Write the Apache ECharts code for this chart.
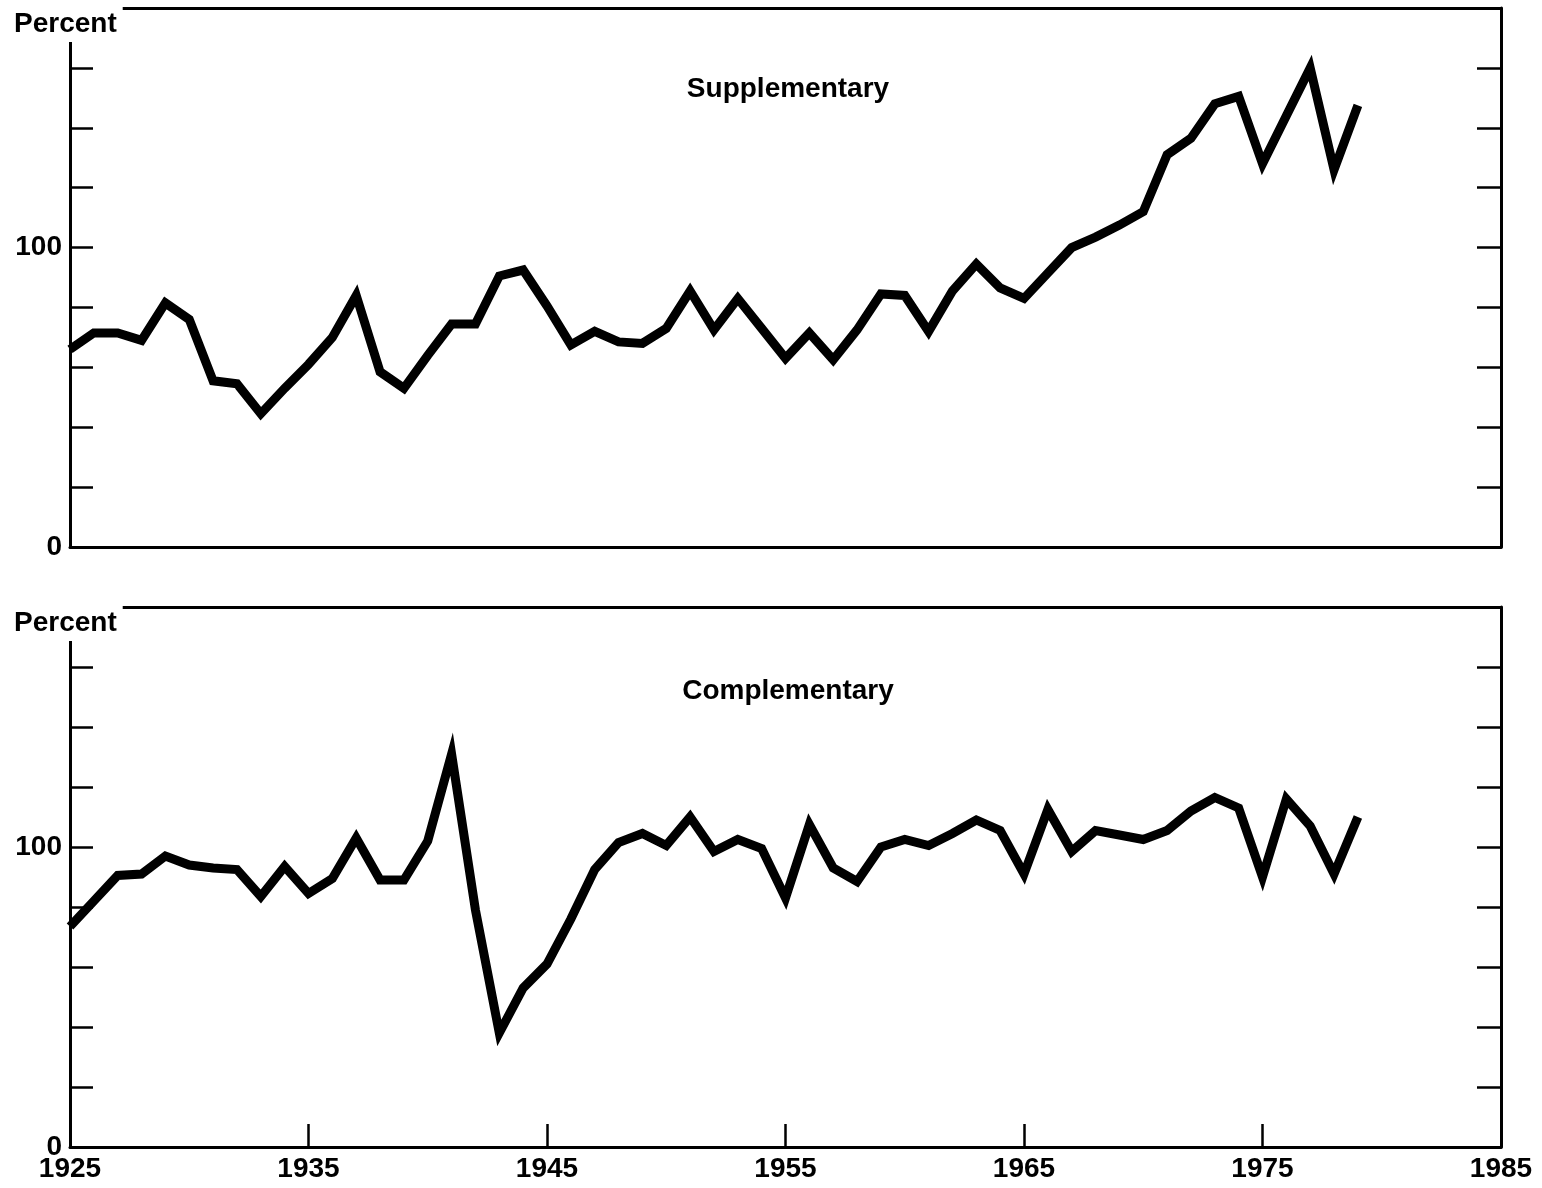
<!DOCTYPE html>
<html>
<head>
<meta charset="utf-8">
<script src="https://cdn.jsdelivr.net/npm/echarts@6/dist/echarts.min.js"></script>
<style>
html, body { margin: 0; padding: 0; background: #fff; }
#main { width: 1542px; height: 1188px; }
</style>
</head>
<body>
<div id="main"></div>
<script>
var years = [
    1925, 1926, 1927, 1928, 1929, 1930, 1931, 1932, 1933, 1934,
    1935, 1936, 1937, 1938, 1939, 1940, 1941, 1942, 1943, 1944,
    1945, 1946, 1947, 1948, 1949, 1950, 1951, 1952, 1953, 1954,
    1955, 1956, 1957, 1958, 1959, 1960, 1961, 1962, 1963, 1964,
    1965, 1966, 1967, 1968, 1969, 1970, 1971, 1972, 1973, 1974,
    1975, 1976, 1977, 1978, 1979
];
var supplementary = [
    66, 71.5, 71.5, 69, 81.5, 76, 55.5, 54.5, 44.5, 53,
    61, 70, 84, 58.5, 53, 64, 74.5, 74.5, 90.5, 92.5,
    80.5, 67.5, 72, 68.5, 68, 73, 85.5, 72.5, 83, 73,
    63, 71.5, 62.5, 72.5, 84.5, 84, 72, 85.5, 94.5, 86.5,
    83, 91.5, 100, 103.5, 107.5, 112, 131, 136.5, 148, 150.5,
    128, 144, 160, 126, 147.5
];
var complementary = [
    73.5, 82, 90.5, 91, 97, 94, 93, 92.5, 83.5, 93.5,
    84.5, 89.5, 103, 89, 89, 102, 131, 79, 38, 53,
    61, 76, 92.5, 101.5, 104.5, 100.5, 110, 98.5, 102.5, 99.5,
    83, 107.5, 93, 88.5, 100, 102.5, 100.5, 104.5, 109, 105.5,
    91, 112.5, 98.5, 105.5, 104, 102.5, 105.5, 112, 116.5, 113,
    90, 116, 107, 91, 110
];
var panelTitles = ['Supplementary', 'Complementary'];
var yLabelValues = [0, 100];
var unitLabel = 'Percent';

var chartDom = document.getElementById('main');
var myChart = echarts.init(chartDom);
var option;

var FONT = '"Liberation Sans", Arial, sans-serif';
var frameLine = { color: '#000', width: 3 };
var tickLine = { color: '#000', width: 2.5 };

function pairs(vals) {
    return years.map(function (y, i) { return [y, vals[i]]; });
}

function bottomX(gridIndex, withLabels) {
    return {
        type: 'value', gridIndex: gridIndex, position: 'bottom',
        min: 1925, max: 1985, interval: 10,
        axisLine: { show: true, onZero: false, lineStyle: frameLine },
        axisTick: { show: withLabels, inside: true, length: 23, lineStyle: tickLine },
        axisLabel: {
            show: withLabels, margin: 8, color: '#000',
            fontSize: 28, fontWeight: 'bold', fontFamily: FONT,
            formatter: function (v) { return String(v); }
        },
        splitLine: { show: false }
    };
}

function topX(gridIndex) {
    return {
        type: 'value', gridIndex: gridIndex, position: 'top',
        min: 1925, max: 1985,
        axisLine: { show: true, onZero: false, lineStyle: frameLine },
        axisTick: { show: false }, axisLabel: { show: false }, splitLine: { show: false }
    };
}

function leftY(gridIndex) {
    return {
        type: 'value', gridIndex: gridIndex, position: 'left',
        min: 0, max: 180, interval: 20,
        axisLine: { show: true, onZero: false, lineStyle: frameLine },
        axisTick: { show: true, inside: true, length: 23, lineStyle: tickLine },
        axisLabel: {
            margin: 8, color: '#000', fontSize: 28, fontWeight: 'bold', fontFamily: FONT,
            formatter: function (v) { return yLabelValues.indexOf(v) >= 0 ? String(v) : ''; }
        },
        splitLine: { show: false }
    };
}

function rightY(gridIndex) {
    return {
        type: 'value', gridIndex: gridIndex, position: 'right',
        min: 0, max: 180, interval: 20,
        axisLine: { show: true, onZero: false, lineStyle: frameLine },
        axisTick: { show: true, inside: true, length: 24, lineStyle: tickLine },
        axisLabel: { show: false }, splitLine: { show: false }
    };
}

function titleAt(text, top) {
    return {
        text: text, left: 783, top: top, textAlign: 'center',
        textStyle: { color: '#000', fontSize: 28, fontWeight: 'bold', fontFamily: FONT }
    };
}

// "Percent" sits in the top-left corner of each frame, on a white patch
function unitText(top) {
    return {
        type: 'text', left: 10, top: top, z: 100,
        style: {
            text: unitLabel, fill: '#000',
            font: 'bold 28px ' + FONT,
            backgroundColor: '#fff', padding: [6, 6, 4, 4]
        }
    };
}

option = {
    backgroundColor: '#fff',
    animation: false,
    title: [titleAt(panelTitles[0], 70), titleAt(panelTitles[1], 672)],
    grid: [
        { left: 70, right: 41, top: 8, height: 539 },
        { left: 70, right: 41, top: 607, height: 540 }
    ],
    xAxis: [bottomX(0, false), topX(0), bottomX(1, true), topX(1)],
    yAxis: [leftY(0), rightY(0), leftY(1), rightY(1)],
    graphic: [unitText(4), unitText(603)],
    series: [
        {
            name: panelTitles[0], type: 'line', xAxisIndex: 0, yAxisIndex: 0,
            data: pairs(supplementary), showSymbol: false,
            lineStyle: { color: '#000', width: 9, join: 'miter' }
        },
        {
            name: panelTitles[1], type: 'line', xAxisIndex: 2, yAxisIndex: 2,
            data: pairs(complementary), showSymbol: false,
            lineStyle: { color: '#000', width: 9, join: 'miter' }
        }
    ]
};

option && myChart.setOption(option);
</script>
</body>
</html>
